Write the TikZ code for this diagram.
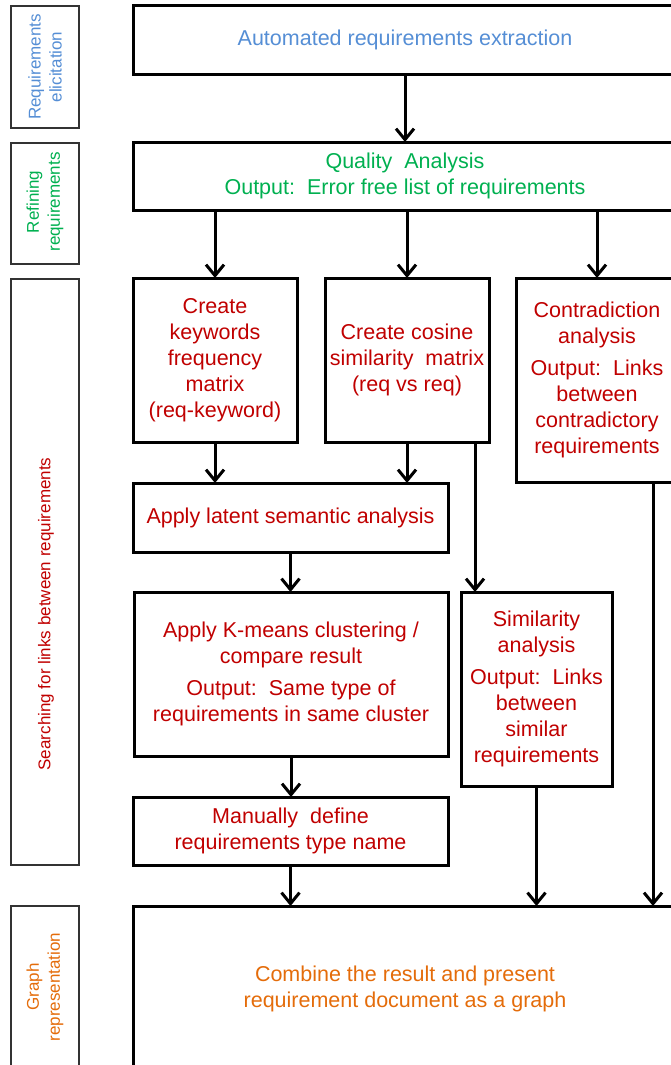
\documentclass[tikz,border=0pt]{standalone}
\usepackage{fontspec}
\setmainfont{Liberation Sans}
\usetikzlibrary{arrows.meta}
\definecolor{elicit}{HTML}{558ED5}
\definecolor{refine}{HTML}{00B050}
\definecolor{search}{HTML}{C00000}
\definecolor{graphc}{HTML}{E46C0A}
\begin{document}
\begin{tikzpicture}[x=1pt,y=-1pt,
  box/.style={draw, line width=3pt, rectangle, inner sep=0pt, outer sep=0pt,
    align=center, font=\fontsize{21.5}{26}\selectfont, anchor=north west},
  lane/.style={draw=black!80, line width=1.2pt, rectangle, inner sep=0pt,
    outer sep=0pt, anchor=north west},
  lanetext/.style={rotate=90, align=center, font=\fontsize{17}{21}\selectfont},
  arr/.style={line width=3pt,
    -{Straight Barb[length=11pt,width=18pt,line width=3pt]}}]
\useasboundingbox (0,0) rectangle (671,1065);
\clip (0,0) rectangle (671,1065);

% swim lanes on the left
\node[lane, minimum width=68pt, minimum height=122pt] (lane1) at (11,6) {};
\node[lane, minimum width=68pt, minimum height=121pt] (lane2) at (11,143) {};
\node[lane, minimum width=68pt, minimum height=586pt] (lane3) at (11,279) {};
\node[lane, minimum width=68pt, minimum height=170pt] (lane4) at (11,906) {};
\node[lanetext, text=elicit] (lab1) at (45,67) {Requirements\\elicitation};
\node[lanetext, text=refine] (lab2) at (45,202) {Refining\\requirements};
\node[lanetext, text=search] (lab3) at (46,614) {Searching for links between requirements};
\node[lanetext, text=graphc] (lab4) at (45,987) {Graph\\representation};

% process steps
\node[box, text=elicit, minimum width=544pt, minimum height=68pt] (top) at (133,6)
  {Automated requirements extraction};
\node[box, text=refine, minimum width=544pt, minimum height=68pt] (qa) at (133,142)
  {Quality\ \ Analysis\\Output:\ \ Error free list of requirements};
\node[box, text=search, minimum width=164pt, minimum height=164pt] (kw) at (133,278)
  {Create\\keywords\\frequency\\matrix\\(req-keyword)};
\node[box, text=search, minimum width=164pt, minimum height=164pt] (cos) at (325,278)
  {Create cosine\\similarity\ \ matrix\\(req vs req)};
\node[box, text=search, minimum width=162pt, minimum height=204pt] (con) at (516,278)
  {Contradiction\\analysis\\[6pt]Output:\ \ Links\\between\\contradictory\\requirements};
\node[box, text=search, minimum width=315pt, minimum height=69pt] (lsa) at (133,483)
  {Apply latent semantic analysis};
\node[box, text=search, minimum width=314pt, minimum height=164pt] (km) at (134,592)
  {Apply K-means clustering /\\compare result\\[6pt]Output:\ \ Same type of\\requirements in same cluster};
\node[box, text=search, minimum width=151pt, minimum height=194pt] (sim) at (461,592)
  {Similarity\\analysis\\[6pt]Output:\ \ Links\\between\\similar\\requirements};
\node[box, text=search, minimum width=315pt, minimum height=68pt] (man) at (133,797)
  {Manually\ \ define\\requirements type name};
\node[box, text=graphc, minimum width=544pt, minimum height=166pt] (gr) at (133,906)
  {Combine the result and present\\requirement document as a graph};

% side exits of the cosine and contradiction boxes
\coordinate (cosout) at ([xshift=-14pt]cos.south east);
\coordinate (conout) at ([xshift=-25pt]con.south east);

% connectors
\draw[arr] (top.south) -- (qa.north);
\draw[arr] (kw.north |- qa.south) -- (kw.north);
\draw[arr] (cos.north |- qa.south) -- (cos.north);
\draw[arr] (con.north |- qa.south) -- (con.north);
\draw[arr] (kw.south) -- (kw.south |- lsa.north);
\draw[arr] (cos.south) -- (cos.south |- lsa.north);
\draw[arr] (cosout) -- (cosout |- sim.north);
\draw[arr] (lsa.south) -- (lsa.south |- km.north);
\draw[arr] (km.south) -- (km.south |- man.north);
\draw[arr] (man.south) -- (man.south |- gr.north);
\draw[arr] (sim.south) -- (sim.south |- gr.north);
\draw[arr] (conout) -- (conout |- gr.north);
\end{tikzpicture}
\end{document}
